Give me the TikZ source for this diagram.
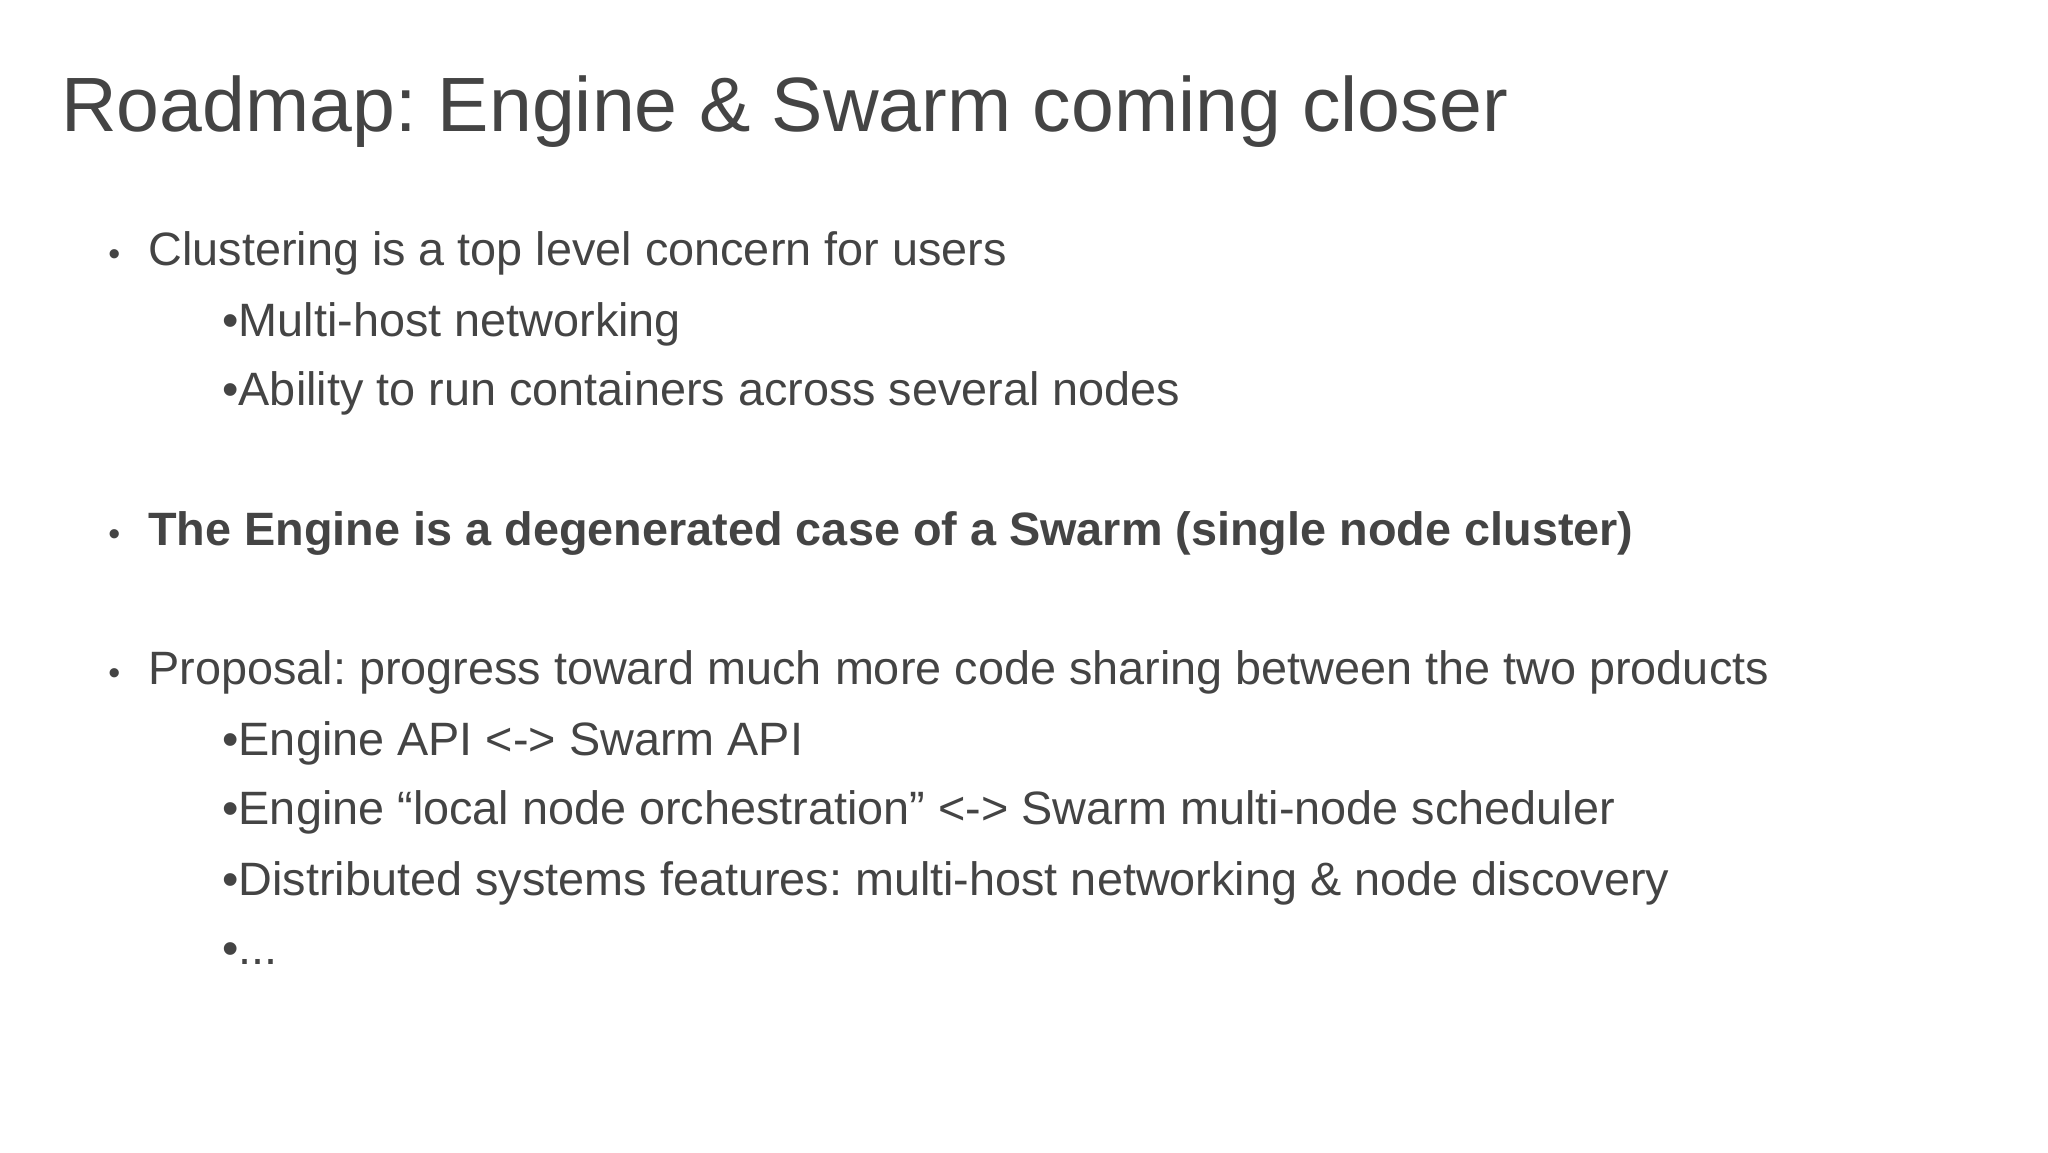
\documentclass[tikz,border=0pt]{standalone}
\usepackage{fontspec}
\setmainfont{Liberation Sans}
\definecolor{tx}{HTML}{444444}
\frenchspacing
\begin{document}
\begin{tikzpicture}[x=0.5pt,y=-0.5pt,
  t/.style={anchor=base west,inner sep=0pt,text=tx,font=\fontsize{23.4}{28}\selectfont},
  b/.style={anchor=base west,inner sep=0pt,text=tx,font=\fontsize{17}{20}\selectfont}]
\useasboundingbox[fill=white] (0,0) rectangle (2048,1152);
\node[anchor=base west,inner sep=0pt,text=tx,font=\fontsize{38.5}{46}\selectfont] (title) at (61,131) {Roadmap: Engine \& Swarm coming closer};
\node[b] (b1) at (108,265) {•};
\node[t] (l1) at (148,265) {Clustering is a top level concern for users};
\node[t] (l2) at (222,336) {•Multi-host networking};
\node[t] (l3) at (222,405) {•Ability to run containers across several nodes};
\node[b] (b2) at (108,545) {•};
\node[t,font=\fontsize{23.4}{28}\selectfont\bfseries] (l4) at (148,545) {The Engine is a degenerated case of a Swarm (single node cluster)};
\node[b] (b3) at (108,684) {•};
\node[t] (l5) at (148,684) {Proposal: progress toward much more code sharing between the two products};
\node[t] (l6) at (222,755) {•Engine API <-> Swarm API};
\node[t] (l7) at (222,824) {•Engine “local node orchestration” <-> Swarm multi-node scheduler};
\node[t] (l8) at (222,895) {•Distributed systems features: multi-host networking \& node discovery};
\node[t] (l9) at (222,964) {•...};
\end{tikzpicture}
\end{document}
